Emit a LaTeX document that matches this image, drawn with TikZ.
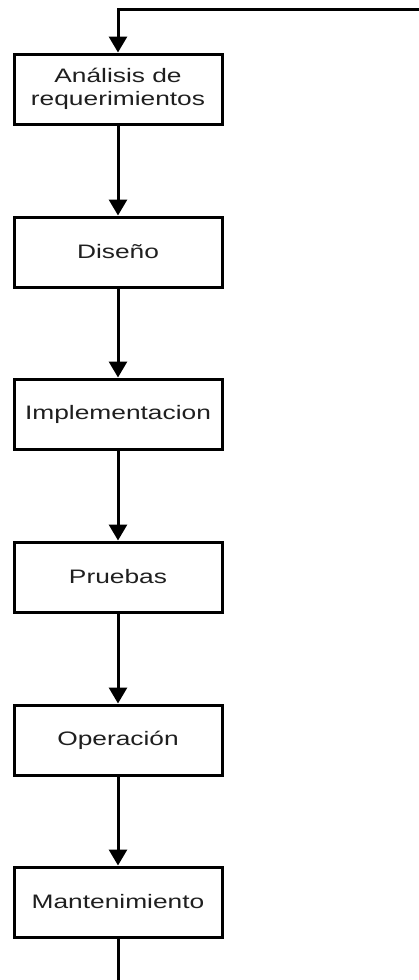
\documentclass[tikz,border=0pt]{standalone}
\usepackage{fontspec}
\setmainfont{Liberation Sans}
\newfontfamily\wideface[FakeStretch=1.35]{Liberation Sans}
\usetikzlibrary{arrows.meta}
\begin{document}
\begin{tikzpicture}[x=1pt,y=1pt,
  stage/.style={draw=black, line width=3pt, fill=white,
    minimum width=208pt, minimum height=70pt, inner sep=0pt,
    align=center, text=black!88,
    font=\wideface\fontsize{19.5}{23}\selectfont},
  flow/.style={draw=black, line width=3pt,
    -{Triangle[width=18pt,length=16pt]}},
  plain/.style={draw=black, line width=3pt}]
  \useasboundingbox (0,0) rectangle (419,-980);

  % process stages, top to bottom
  \node[stage] (req)  at (118,-89)  {Análisis de\\requerimientos};
  \node[stage] (dis)  at (118,-252) {Diseño};
  \node[stage] (imp)  at (118,-414) {Implementacion};
  \node[stage] (pru)  at (118,-577) {Pruebas};
  \node[stage] (ope)  at (118,-740) {Operación};
  \node[stage] (man)  at (118,-902) {Mantenimiento};

  % loop-back path ends
  \coordinate (loopin)  at (421,-9);
  \coordinate (loopout) at (118,-982);

  % connectors
  \draw[flow] (loopin) -- (118,-9) -- (req.north);
  \draw[flow] (req) -- (dis);
  \draw[flow] (dis) -- (imp);
  \draw[flow] (imp) -- (pru);
  \draw[flow] (pru) -- (ope);
  \draw[flow] (ope) -- (man);
  \draw[plain] (man) -- (loopout);
\end{tikzpicture}
\end{document}
